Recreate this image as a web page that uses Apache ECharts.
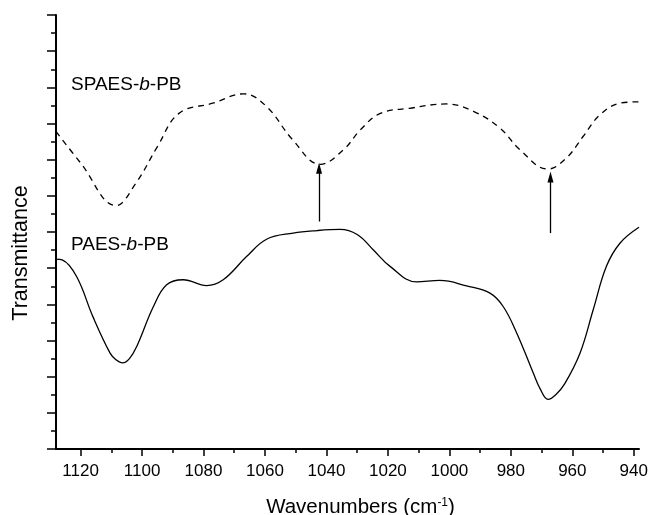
<!DOCTYPE html>
<html>
<head>
<meta charset="utf-8">
<script src="https://cdn.jsdelivr.net/npm/echarts@6/dist/echarts.min.js"></script>
<style>
html,body{margin:0;padding:0;background:#fff;}
#c{width:652px;height:515px;}
</style>
</head>
<body>
<div id="c"></div>
<script>
// Wavenumbers (cm-1) and transmittance (arbitrary units)
var spaesX = [1128, 1120, 1108.5, 1102, 1095, 1088, 1077, 1067, 1059.5, 1051, 1042, 1034.5, 1029, 1022.5, 1013, 1001, 992, 983.5, 977, 968, 962, 956.5, 951, 944.5, 938.3];
var spaesY = [8.78, 7.91, 6.73, 7.35, 8.36, 9.28, 9.56, 9.82, 9.47, 8.55, 7.87, 8.27, 8.82, 9.28, 9.42, 9.54, 9.33, 8.87, 8.27, 7.74, 8.04, 8.64, 9.24, 9.56, 9.60];
var paesX = [1128, 1126, 1121.3, 1116, 1110.4, 1108.5, 1106.3, 1104.1, 1101.7, 1096.3, 1092, 1086.6, 1079, 1073.6, 1066, 1059.5, 1050.8, 1043, 1035.6, 1030, 1024.8, 1019.3, 1010.7, 1003.1, 994.4, 986.8, 982.5, 978.1, 972.7, 970.5, 967.9, 965.4, 962.5, 957.5, 953.2, 948.9, 944.5, 938.3];
var paesY = [5.25, 5.23, 4.77, 3.66, 2.65, 2.47, 2.38, 2.50, 2.84, 3.94, 4.54, 4.68, 4.52, 4.68, 5.32, 5.80, 5.97, 6.04, 6.07, 5.93, 5.51, 5.05, 4.62, 4.66, 4.51, 4.31, 3.94, 3.21, 2.10, 1.67, 1.37, 1.50, 1.80, 2.65, 3.85, 5.05, 5.69, 6.13];
var majorTicksX = [1120, 1100, 1080, 1060, 1040, 1020, 1000, 980, 960, 940];
var minorTicksX = [1110, 1090, 1070, 1050, 1030, 1010, 990, 970, 950];
var arrowX = [1042.4, 967.1];
var arrowFrom = [6.29, 5.97];
var arrowTo = [7.76, 7.52];

function pairs(xs, ys) { return xs.map(function (x, i) { return [x, ys[i]]; }); }

var FONT = 'Liberation Sans, Arial, sans-serif';
var chart = echarts.init(document.getElementById('c'), null, {renderer: 'canvas'});
var axisRange = {min: 938.3, max: 1128};

var arrowData = arrowX.map(function (x, i) {
  return [{coord: [x, arrowFrom[i]], symbol: 'none'},
          {coord: [x, arrowTo[i]], symbol: 'triangle', symbolSize: [6, 11]}];
});

chart.setOption({
  animation: false,
  backgroundColor: '#fff',
  grid: {left: 56, right: 13, top: 15, bottom: 66, containLabel: false, outerBoundsMode: 'none'},
  xAxis: [{
    type: 'value', min: axisRange.min, max: axisRange.max, inverse: true,
    position: 'bottom',
    axisLine: {show: true, lineStyle: {color: '#000', width: 2}},
    axisTick: {show: true, inside: false, length: 7, lineStyle: {color: '#000', width: 1.5}, customValues: majorTicksX},
    axisLabel: {show: true, margin: 14, color: '#000', fontSize: 17, fontFamily: FONT, customValues: majorTicksX,
      formatter: function (v) { return String(v); }},
    splitLine: {show: false},
    name: '{a|Wavenumbers (cm}{s|-1}{a|)}',
    nameLocation: 'middle', nameGap: 48,
    nameTextStyle: {padding: [0, 0, 0, 26], rich: {
      a: {fontSize: 20.5, fontFamily: FONT, color: '#000'},
      s: {fontSize: 12, fontFamily: FONT, color: '#000', verticalAlign: 'top', padding: [0, 0, 9, 0]}
    }}
  }, {
    type: 'value', min: axisRange.min, max: axisRange.max, inverse: true,
    position: 'bottom',
    axisLine: {show: false},
    axisTick: {show: true, inside: false, length: 4, lineStyle: {color: '#000', width: 1.5}, customValues: minorTicksX},
    axisLabel: {show: false},
    splitLine: {show: false}
  }],
  yAxis: {
    type: 'value', min: 0, max: 12, interval: 1,
    axisLine: {show: true, lineStyle: {color: '#000', width: 2}},
    axisTick: {show: true, inside: false, length: 9, lineStyle: {color: '#000', width: 1.5}},
    minorTick: {show: true, splitNumber: 2, length: 5, lineStyle: {color: '#000', width: 1.5}},
    axisLabel: {show: false},
    splitLine: {show: false},
    name: 'Transmittance', nameLocation: 'middle', nameGap: 24, nameRotate: 90,
    nameTextStyle: {fontSize: 21.5, fontFamily: FONT, color: '#000', padding: [0, 42, 0, 0]}
  },
  series: [{
    type: 'line', name: 'SPAES-b-PB', data: pairs(spaesX, spaesY),
    showSymbol: false, symbol: 'none', smooth: 0.4,
    lineStyle: {color: '#000', width: 1.3, type: [6, 5]},
    silent: true
  }, {
    type: 'line', name: 'PAES-b-PB', data: pairs(paesX, paesY),
    showSymbol: false, symbol: 'none', smooth: 0.4,
    lineStyle: {color: '#000', width: 1.3},
    silent: true,
    markLine: {
      silent: true, animation: false,
      label: {show: false},
      lineStyle: {color: '#000', width: 1.3, type: 'solid'},
      emphasis: {disabled: true},
      data: arrowData
    }
  }],
  graphic: [{
    type: 'text', left: 71, top: 75,
    style: {text: '{n|SPAES-}{i|b}{n|-PB}', rich: {
      n: {fontSize: 19, fontFamily: FONT, fill: '#000'},
      i: {fontSize: 19, fontFamily: FONT, fontStyle: 'italic', fill: '#000'}
    }}
  }, {
    type: 'text', left: 71, top: 235,
    style: {text: '{n|PAES-}{i|b}{n|-PB}', rich: {
      n: {fontSize: 19, fontFamily: FONT, fill: '#000'},
      i: {fontSize: 19, fontFamily: FONT, fontStyle: 'italic', fill: '#000'}
    }}
  }]
});
</script>
</body>
</html>
